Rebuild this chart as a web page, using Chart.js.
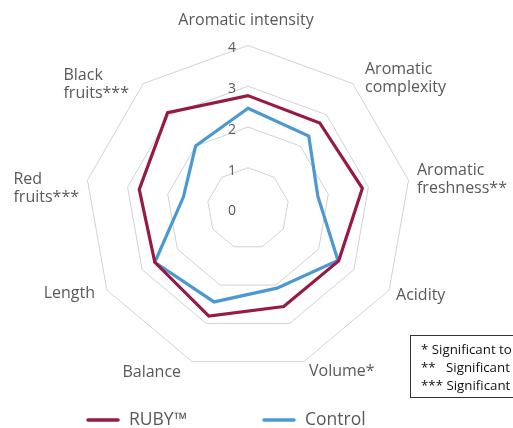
<!DOCTYPE html>
<html>
<head>
<meta charset="utf-8">
<script src="https://cdn.jsdelivr.net/npm/chart.js@4"></script>
<style>
html,body{margin:0;padding:0;background:#fff;overflow:hidden;}
canvas{display:block;}
</style>
</head>
<body>
<canvas id="c" width="513" height="428"></canvas>
<script>
// ---- data ----
const categories = [
  ["Aromatic intensity"],
  ["Aromatic", "complexity"],
  ["Aromatic", "freshness**"],
  ["Acidity"],
  ["Volume*"],
  ["Balance"],
  ["Length"],
  ["Red", "fruits***"],
  ["Black", "fruits***"]
];
const seriesNames = ["RUBY™", "Control"];
const rubyValues    = [2.77, 2.74, 2.85, 2.57, 2.56, 2.81, 2.64, 2.71, 3.07];
const controlValues = [2.46, 2.32, 1.74, 2.55, 2.08, 2.44, 2.64, 1.61, 2.00];
const tickValues = [0, 1, 2, 3, 4];
const noteLines = ["* Significant to", "**   Significant", "*** Significant"];

// ---- style ----
const RUBY = '#971a44';
const BLUE = '#4b98d3';
const TEXT = '#58595b';
const FONT = '"Open Sans", sans-serif';

// label placement relative to scale point positions
const labelLayout = [
  {align: 'center', dx: -2,  dy: -15},
  {align: 'left',   dx: 5.8, dy: 2.5},
  {align: 'left',   dx: -1.4, dy: 0.5},
  {align: 'left',   dx: -1.8, dy: 0},
  {align: 'left',   dx: 1.8, dy: 0},
  {align: 'right',  dx: -7.8, dy: 1},
  {align: 'right',  dx: -3.2, dy: -2},
  {align: 'block',  dx: 1.4, dy: 10},
  {align: 'block',  dx: -7.8, dy: 8.5}
];

const labelsPlugin = {
  id: 'customLabels',
  beforeDatasetsDraw(chart) {
    const s = chart.scales.r;
    const ctx = chart.ctx;
    ctx.save();
    ctx.font = '14px ' + FONT;
    ctx.fillStyle = TEXT;
    ctx.textAlign = 'center';
    ctx.textBaseline = 'middle';
    tickValues.forEach(v => {
      const d = s.getDistanceFromCenterForValue(v);
      ctx.fillText(String(v), s.xCenter - 16, s.yCenter - d + 3);
    });
    ctx.restore();
  },
  afterDraw(chart) {
    const s = chart.scales.r;
    const ctx = chart.ctx;
    ctx.save();
    ctx.font = '16px ' + FONT;
    ctx.fillStyle = TEXT;
    ctx.textBaseline = 'middle';
    const lh = 18;
    chart.data.labels.forEach((lab, i) => {
      const lines = Array.isArray(lab) ? lab : [lab];
      const p = s.getPointPosition(i, s.drawingArea + 10);
      const L = labelLayout[i];
      const cx = p.x + L.dx, cy = p.y + L.dy;
      const w = Math.max(...lines.map(t => ctx.measureText(t).width));
      let x = cx;
      if (L.align === 'center') ctx.textAlign = 'center';
      else if (L.align === 'left') ctx.textAlign = 'left';
      else if (L.align === 'right') ctx.textAlign = 'right';
      else { ctx.textAlign = 'left'; x = cx - w; }
      lines.forEach((t, k) => {
        ctx.fillText(t, x, cy + (k - (lines.length - 1) / 2) * lh);
      });
    });
    // legend
    const legendY = 420;
    const items = [{x: 87}, {x: 263}];
    ctx.font = '17.5px ' + FONT;
    ctx.textAlign = 'left';
    chart.data.datasets.forEach((ds, i) => {
      const it = items[i];
      ctx.strokeStyle = ds.borderColor;
      ctx.lineWidth = 3.5;
      ctx.lineCap = 'round';
      ctx.beginPath();
      ctx.moveTo(it.x + 1, legendY);
      ctx.lineTo(it.x + 31, legendY);
      ctx.stroke();
      ctx.fillStyle = TEXT;
      ctx.fillText(ds.label, it.x + 42, legendY);
    });
    // significance note box (clipped by the right edge)
    ctx.lineCap = 'butt';
    ctx.strokeStyle = '#333';
    ctx.lineWidth = 1;
    ctx.strokeRect(410.5, 335.5, 140, 62);
    ctx.font = '13.3px ' + FONT;
    ctx.fillStyle = '#111';
    ctx.textAlign = 'left';
    noteLines.forEach((t, k) => ctx.fillText(t, 421, 350 + k * 18));
    ctx.restore();
  }
};

new Chart(document.getElementById('c'), {
  type: 'radar',
  data: {
    labels: categories,
    datasets: [
      {label: seriesNames[0], data: rubyValues, borderColor: RUBY, backgroundColor: RUBY, fill: false},
      {label: seriesNames[1], data: controlValues, borderColor: BLUE, backgroundColor: BLUE, fill: false}
    ]
  },
  options: {
    responsive: false,
    animation: false,
    events: [],
    elements: {
      line: {borderWidth: 3.2, tension: 0, borderJoinStyle: 'miter'},
      point: {radius: 0, hoverRadius: 0}
    },
    plugins: {legend: {display: false}, tooltip: {enabled: false}},
    scales: {
      r: {
        min: 0, max: 4,
        ticks: {stepSize: 1, display: false},
        grid: {color: '#d2d2d2', lineWidth: 1},
        angleLines: {display: false},
        pointLabels: {display: false},
        afterFit(scale) {
          scale.xCenter = 248;
          scale.yCenter = 208.5;
          scale.drawingArea = 163;
        }
      }
    }
  },
  plugins: [labelsPlugin]
});
</script>
</body>
</html>
